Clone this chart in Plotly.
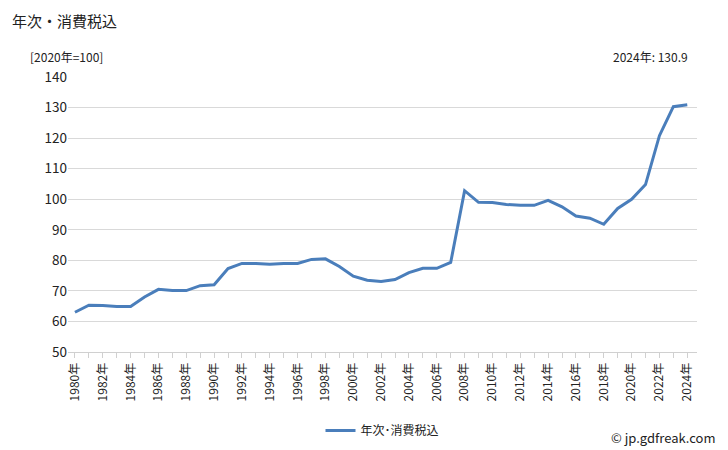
import plotly.graph_objects as go

years = list(range(1980, 2025))
values = [63, 65.3, 65.2, 64.9, 64.9, 68, 70.5, 70.1, 70.1, 71.7, 72, 77.3, 79, 79, 78.7, 79, 79,
          80.3, 80.5, 78, 74.8, 73.5, 73.1, 73.7, 76, 77.4, 77.4, 79.3, 102.8, 99, 98.9, 98.3, 98,
          98, 99.6, 97.5, 94.5, 93.8, 91.8, 97, 100, 104.8, 120.8, 130.3, 130.9]
tick_labels = [f"{y}年" if y % 2 == 0 else "" for y in years]

L, R, T, B = 68, 31, 77, 98
fig = go.Figure(go.Scatter(x=years, y=values, mode="lines", name="年次･消費税込",
                           line=dict(color="#4a7ebb", width=3)))
font = "Noto Sans CJK JP"
pw, ph = 728 - L - R, 450 - T - B

def ann(text, px, py, xanchor, size):
    return dict(text=text, x=(px - L) / pw, y=1 - (py - T) / ph, xref="paper", yref="paper",
                showarrow=False, font=dict(size=size), xanchor=xanchor, yanchor="top")

fig.update_layout(
    width=728, height=450, margin=dict(l=L, r=R, t=T, b=B, autoexpand=False),
    paper_bgcolor="white", plot_bgcolor="white",
    font=dict(family=font, size=13, color="#222"),
    showlegend=True,
    legend=dict(orientation="h", x=0.5, xanchor="center", y=1 - (416 - T) / ph, yanchor="top",
                font=dict(size=12)),
    xaxis=dict(range=[1979.5, 2024.7], tickvals=years, ticktext=tick_labels,
               tickangle=-90, showgrid=False, showline=True, linecolor="#d0d0d0", ticks="outside",
               tickcolor="#d0d0d0", ticklen=5, tickfont=dict(size=12), automargin=False),
    yaxis=dict(range=[50, 140], dtick=10, showgrid=True, gridcolor="#d9d9d9", zeroline=False,
               showline=False, tickfont=dict(size=13.5), automargin=False),
    annotations=[
        ann("年次・消費税込", 10, 8, "left", 15),
        ann("[2020年=100]", 28, 46, "left", 12),
        ann("2024年: 130.9", 690, 46, "right", 12),
        ann("© jp.gdfreak.com", 718, 426, "right", 13),
    ],
)
fig.write_html("out.html", config={"displayModeBar": False})
with open("out.html", encoding="utf-8") as f:
    html = f.read()
html = html.replace("<body>", '<body style="margin:0;padding:0">', 1)
with open("out.html", "w", encoding="utf-8") as f:
    f.write(html)
